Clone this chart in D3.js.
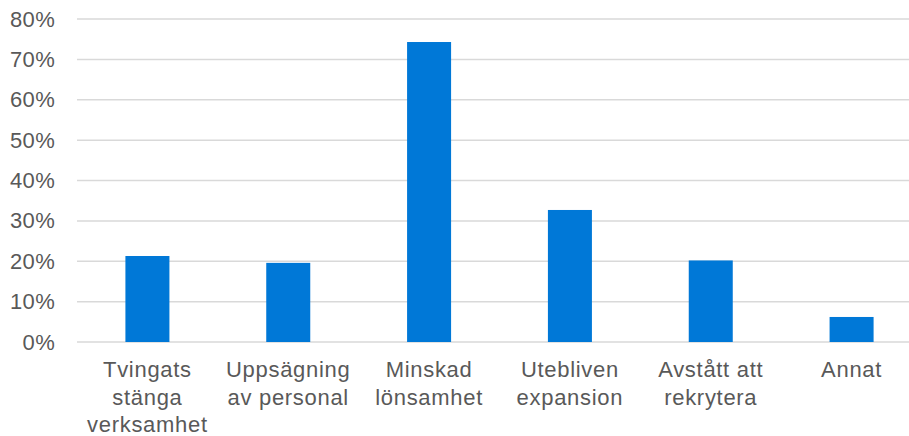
<!DOCTYPE html>
<html>
<head>
<meta charset="utf-8">
<script src="https://cdn.jsdelivr.net/npm/d3@7"></script>
<style>
  body { margin: 0; background: #fff; }
  svg { display: block; font-family: "Liberation Sans", Arial, sans-serif; }
</style>
</head>
<body>
<div id="chart"><svg></svg></div>
<script>
const width = 909;
const height = 436;

// data
const categories = ['Tvingats stänga verksamhet', 'Uppsägning av personal', 'Minskad lönsamhet',
                    'Utebliven expansion', 'Avstått att rekrytera', 'Annat'];
const labelLines = [['Tvingats', 'stänga', 'verksamhet'], ['Uppsägning', 'av personal'], ['Minskad', 'lönsamhet'],
                    ['Utebliven', 'expansion'], ['Avstått att', 'rekrytera'], ['Annat']];
const values = [0.213, 0.196, 0.743, 0.327, 0.202, 0.062];
const yTicks = [0, 0.1, 0.2, 0.3, 0.4, 0.5, 0.6, 0.7, 0.8];

const svg = d3.select('#chart').select('svg')
    .attr('width', width)
    .attr('height', height)
    .attr('viewBox', '0 0 ' + width + ' ' + height);

// plot area runs a bit past the right edge, like the reference crop
const x = d3.scaleBand()
    .domain(categories)
    .range([77, 922])
    .paddingInner(0.6875)
    .paddingOuter(0.34375);

const y = d3.scaleLinear()
    .domain([0, 0.8])
    .range([342, 19]);

// gridlines
svg.append('g')
    .selectAll('line')
    .data(yTicks)
    .join('line')
    .attr('x1', 77)
    .attr('x2', 922)
    .attr('y1', d => y(d))
    .attr('y2', d => y(d))
    .attr('stroke', '#d9d9d9')
    .attr('stroke-width', 1.5);

// y axis labels
const yAxis = d3.axisLeft(y)
    .tickValues(yTicks)
    .tickFormat(d3.format('.0%'))
    .tickSize(0)
    .tickPadding(0);

svg.append('g')
    .attr('transform', 'translate(55,0)')
    .call(yAxis)
    .call(g => g.select('.domain').remove())
    .selectAll('text')
    .attr('fill', '#595959')
    .attr('font-size', 22)
    .attr('letter-spacing', 0.3)
    .attr('font-family', '"Liberation Sans", Arial, sans-serif');

// bars
svg.append('g')
    .selectAll('rect')
    .data(values)
    .join('rect')
    .attr('x', (d, i) => x(categories[i]))
    .attr('width', x.bandwidth())
    .attr('y', d => y(d))
    .attr('height', d => y(0) - y(d))
    .attr('fill', '#0078d7');

// category labels
const lab = svg.append('g')
    .selectAll('text')
    .data(categories)
    .join('text')
    .attr('text-anchor', 'middle')
    .attr('fill', '#595959')
    .attr('font-size', 22)
    .attr('letter-spacing', 0.7)
    .attr('x', d => x(d) + x.bandwidth() / 2)
    .attr('y', 377);

lab.selectAll('tspan')
    .data((d, i) => labelLines[i])
    .join('tspan')
    .attr('x', function() { return d3.select(this.parentNode).attr('x'); })
    .attr('dy', (d, i) => i === 0 ? 0 : 27.5)
    .text(d => d);
</script>
</body>
</html>
